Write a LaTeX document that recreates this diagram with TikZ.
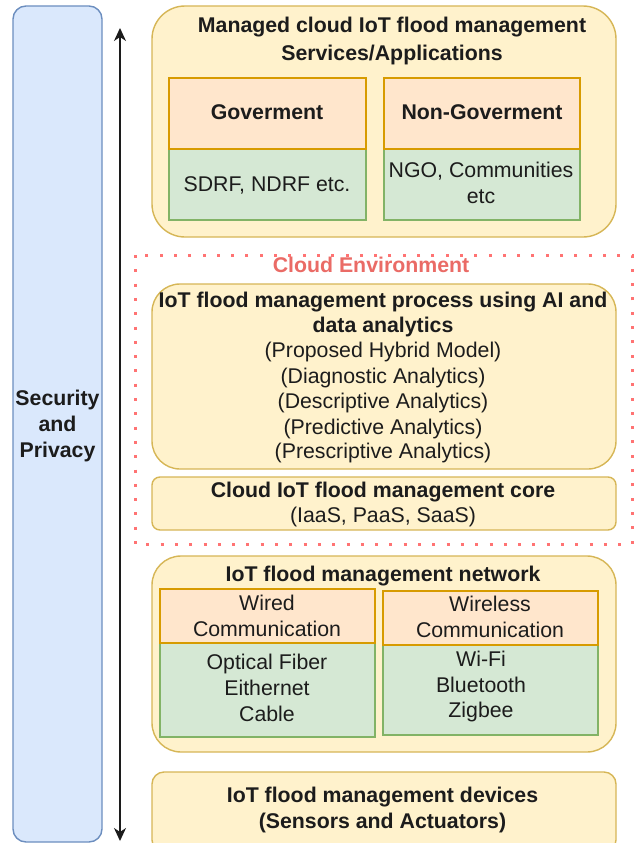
\documentclass[tikz,border=0pt]{standalone}
\usepackage{fontspec}
\setmainfont{Liberation Sans}
\usetikzlibrary{arrows.meta}
\definecolor{yfill}{HTML}{FFF2CC}
\definecolor{ydraw}{HTML}{D6B656}
\definecolor{ofill}{HTML}{FFE6CC}
\definecolor{odraw}{HTML}{D79B00}
\definecolor{gfill}{HTML}{D5E8D4}
\definecolor{gdraw}{HTML}{82B366}
\definecolor{bfill}{HTML}{DAE8FC}
\definecolor{bdraw}{HTML}{6C8EBF}
\definecolor{envc}{HTML}{FF7373}
\definecolor{envtext}{HTML}{EA6B66}
\definecolor{textc}{HTML}{1C1C1C}
\tikzset{
  box/.style={draw, line width=1.4pt, inner sep=0pt, outer sep=0pt},
  ybox/.style={box, fill=yfill, draw=ydraw},
  obox/.style={box, fill=ofill, draw=odraw},
  gbox/.style={box, fill=gfill, draw=gdraw},
  bbox/.style={box, fill=bfill, draw=bdraw},
  txt/.style={anchor=base, inner sep=0pt, text=textc, font=\fontsize{21.3}{25.6}\selectfont},
  btxt/.style={txt, font=\fontsize{21.3}{25.6}\selectfont\bfseries},
}
\begin{document}
\begin{tikzpicture}[x=1pt,y=-1pt]
\useasboundingbox (0,0) rectangle (634,843);

% Security and privacy
\node[bbox, rounded corners=13pt, minimum width=89pt, minimum height=836pt] (sec) at (57.5,424) {};
\node[btxt] (sec1) at (57.5,405) {Security};
\node[btxt] (sec2) at (57.5,431) {and};
\node[btxt] (sec3) at (57.5,457) {Privacy};

% vertical double arrow
\coordinate (arrtop) at (120,28);
\coordinate (arrbot) at (120,841);
\draw[line width=1.4pt, draw=textc, {Stealth[length=13pt,width=12pt,inset=4pt]}-{Stealth[length=13pt,width=12pt,inset=4pt]}] (arrtop) -- (arrbot);

% Services / applications
\node[ybox, rounded corners=33pt, minimum width=464pt, minimum height=231pt] (apps) at (384,121.5) {};
\node[btxt] (apps1) at (392,33) {Managed cloud IoT flood management};
\node[btxt] (apps2) at (392,60) {Services/Applications};
\node[gbox, minimum width=197pt, minimum height=71pt] (govb) at (267.5,184.5) {};
\node[obox, minimum width=197pt, minimum height=71pt] (govh) at (267.5,113.5) {};
\node[btxt] (govt) at (267,119) {Goverment};
\node[txt] (govd) at (267,191) {SDRF, NDRF etc.};
\node[gbox, minimum width=196pt, minimum height=71pt] (ngovb) at (482,184.5) {};
\node[obox, minimum width=196pt, minimum height=71pt] (ngovh) at (482,113.5) {};
\node[btxt] (ngovt) at (482,119) {Non-Goverment};
\node[txt] (ngovd1) at (481,177) {NGO, Communities};
\node[txt] (ngovd2) at (481,203) {etc};

% Cloud environment
\draw[envc, line width=3pt, dash pattern=on 3pt off 11.3pt] (135,255) rectangle (632,544);
\node[btxt, text=envtext] (envt) at (371,272) {Cloud Environment};

\node[ybox, rounded corners=28pt, minimum width=464pt, minimum height=185pt] (ai) at (384,376.5) {};
\node[btxt] (ai1) at (383,307) {IoT flood management process using AI and};
\node[btxt] (ai2) at (383,332) {data analytics};
\node[txt] (ai3) at (383,357) {(Proposed Hybrid Model)};
\node[txt] (ai4) at (383,383) {(Diagnostic Analytics)};
\node[txt] (ai5) at (383,408) {(Descriptive Analytics)};
\node[txt] (ai6) at (383,434) {(Predictive Analytics)};
\node[txt] (ai7) at (383,458) {(Prescriptive Analytics)};

\node[ybox, rounded corners=8pt, minimum width=464pt, minimum height=53pt] (core) at (384,503.5) {};
\node[btxt] (core1) at (383,497) {Cloud IoT flood management core};
\node[txt] (core2) at (383,522) {(IaaS, PaaS, SaaS)};

% Network
\node[ybox, rounded corners=29pt, minimum width=464pt, minimum height=196pt] (net) at (384,654) {};
\node[btxt] (net1) at (383,581) {IoT flood management network};
\node[gbox, minimum width=215pt, minimum height=94pt] (wiredb) at (267.5,690) {};
\node[obox, minimum width=215pt, minimum height=54pt] (wiredh) at (267.5,616) {};
\node[txt] (wired1) at (267,610) {Wired};
\node[txt] (wired2) at (267,636) {Communication};
\node[txt] (wired3) at (267,669) {Optical Fiber};
\node[txt] (wired4) at (267,695) {Eithernet};
\node[txt] (wired5) at (267,721) {Cable};
\node[gbox, minimum width=215pt, minimum height=90pt] (wlessb) at (490.5,690) {};
\node[obox, minimum width=215pt, minimum height=54pt] (wlessh) at (490.5,618) {};
\node[txt] (wless1) at (490,611) {Wireless};
\node[txt] (wless2) at (490,637) {Communication};
\node[txt] (wless3) at (481,666) {Wi-Fi};
\node[txt] (wless4) at (481,692) {Bluetooth};
\node[txt] (wless5) at (481,717) {Zigbee};

% Devices
\node[ybox, rounded corners=12pt, minimum width=464pt, minimum height=80pt] (dev) at (384,812) {};
\node[btxt] (dev1) at (382.5,802) {IoT flood management devices};
\node[btxt] (dev2) at (382.5,828) {(Sensors and Actuators)};
\end{tikzpicture}
\end{document}
